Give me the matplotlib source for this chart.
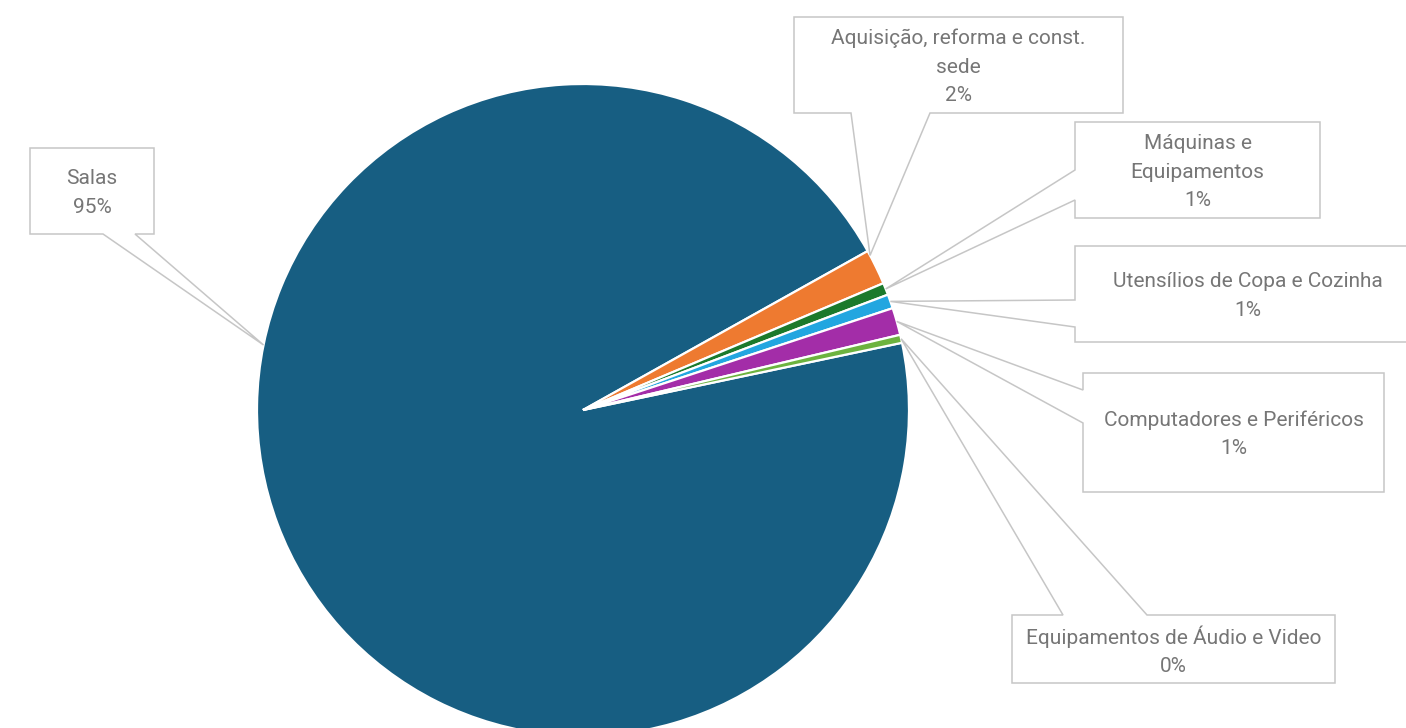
import matplotlib
matplotlib.use("Agg")
import matplotlib.pyplot as plt
from matplotlib.patches import Polygon
import numpy as np

#####################################################################################
# data
categories = [
    "Salas",
    "Aquisição, reforma e const.\nsede",
    "Máquinas e\nEquipamentos",
    "Utensílios de Copa e Cozinha",
    "Computadores e Periféricos",
    "Equipamentos de Áudio e Video",
]
shares = [95.2, 1.75, 0.6, 0.7, 1.35, 0.4]
colors = ["#175E82", "#EE7A30", "#1B7A2C", "#22A6E0", "#A32DA8", "#6CB33F"]

#####################################################################################
# layout (image pixel coords, y downward)
W, H = 1406, 728
CENTER = (583, 410)
RADIUS = 326
START = 11.9

# box (x0, y0, x1, y1), notch side, notch range, tip angle override
callouts = [
    ((30, 148, 154, 234), "bottom", (103, 135), 168.5),
    ((794, 17, 1123, 113), "bottom", (851, 930), 28.3),
    ((1075, 122, 1320, 218), "left", (170, 200), None),
    ((1075, 246, 1421, 342), "left", (300, 327), None),
    ((1083, 373, 1384, 492), "left", (390, 423), None),
    ((1012, 615, 1335, 683), "top", (1063, 1147), None),
]

TEXT_COLOR = "#767676"
BOX_COLOR = "#C6C6C6"
plt.rcParams["font.family"] = ["Roboto", "DejaVu Sans"]


def Y(y):
    return H - y


# ---------------------------------------------------------------------------
fig = plt.figure(figsize=(W / 100, H / 100), dpi=100)
ax = fig.add_axes([0, 0, 1, 1])

wedges, _ = ax.pie(
    shares,
    colors=colors,
    startangle=START,
    counterclock=False,
    center=(CENTER[0], Y(CENTER[1])),
    radius=RADIUS,
    wedgeprops=dict(edgecolor="white", linewidth=1.6),
)

ax.set_xlim(0, W)
ax.set_ylim(0, H)
ax.set_aspect("equal")
ax.axis("off")

# ---------------------------------------------------------------------------
total = sum(shares)
for wedge, name, value, (box, side, notch, tip_ang) in zip(wedges, categories, shares, callouts):
    ang = tip_ang if tip_ang is not None else 0.5 * (wedge.theta1 + wedge.theta2)
    tx = CENTER[0] + RADIUS * np.cos(np.radians(ang))
    ty = CENTER[1] - RADIUS * np.sin(np.radians(ang))
    x0, y0, x1, y1 = box
    n1, n2 = notch

    if side == "bottom":
        pts = [(x0, y0), (x1, y0), (x1, y1), (n2, y1), (tx, ty), (n1, y1), (x0, y1)]
    elif side == "left":
        pts = [(x0, y0), (x1, y0), (x1, y1), (x0, y1), (x0, n2), (tx, ty), (x0, n1)]
    else:
        pts = [(x0, y0), (n1, y0), (tx, ty), (n2, y0), (x1, y0), (x1, y1), (x0, y1)]

    ax.add_patch(Polygon([(px, Y(py)) for px, py in pts], closed=True,
                         facecolor="white", edgecolor=BOX_COLOR, linewidth=1.1,
                         zorder=5, clip_on=False))

    pct = f"{round(value / total * 100):.0f}%"
    ax.text((x0 + x1) / 2, Y((y0 + y1) / 2 + 2), f"{name}\n{pct}",
            ha="center", va="center", fontsize=15, color=TEXT_COLOR,
            linespacing=1.62, zorder=6)

fig.savefig("out.png", dpi=100)
